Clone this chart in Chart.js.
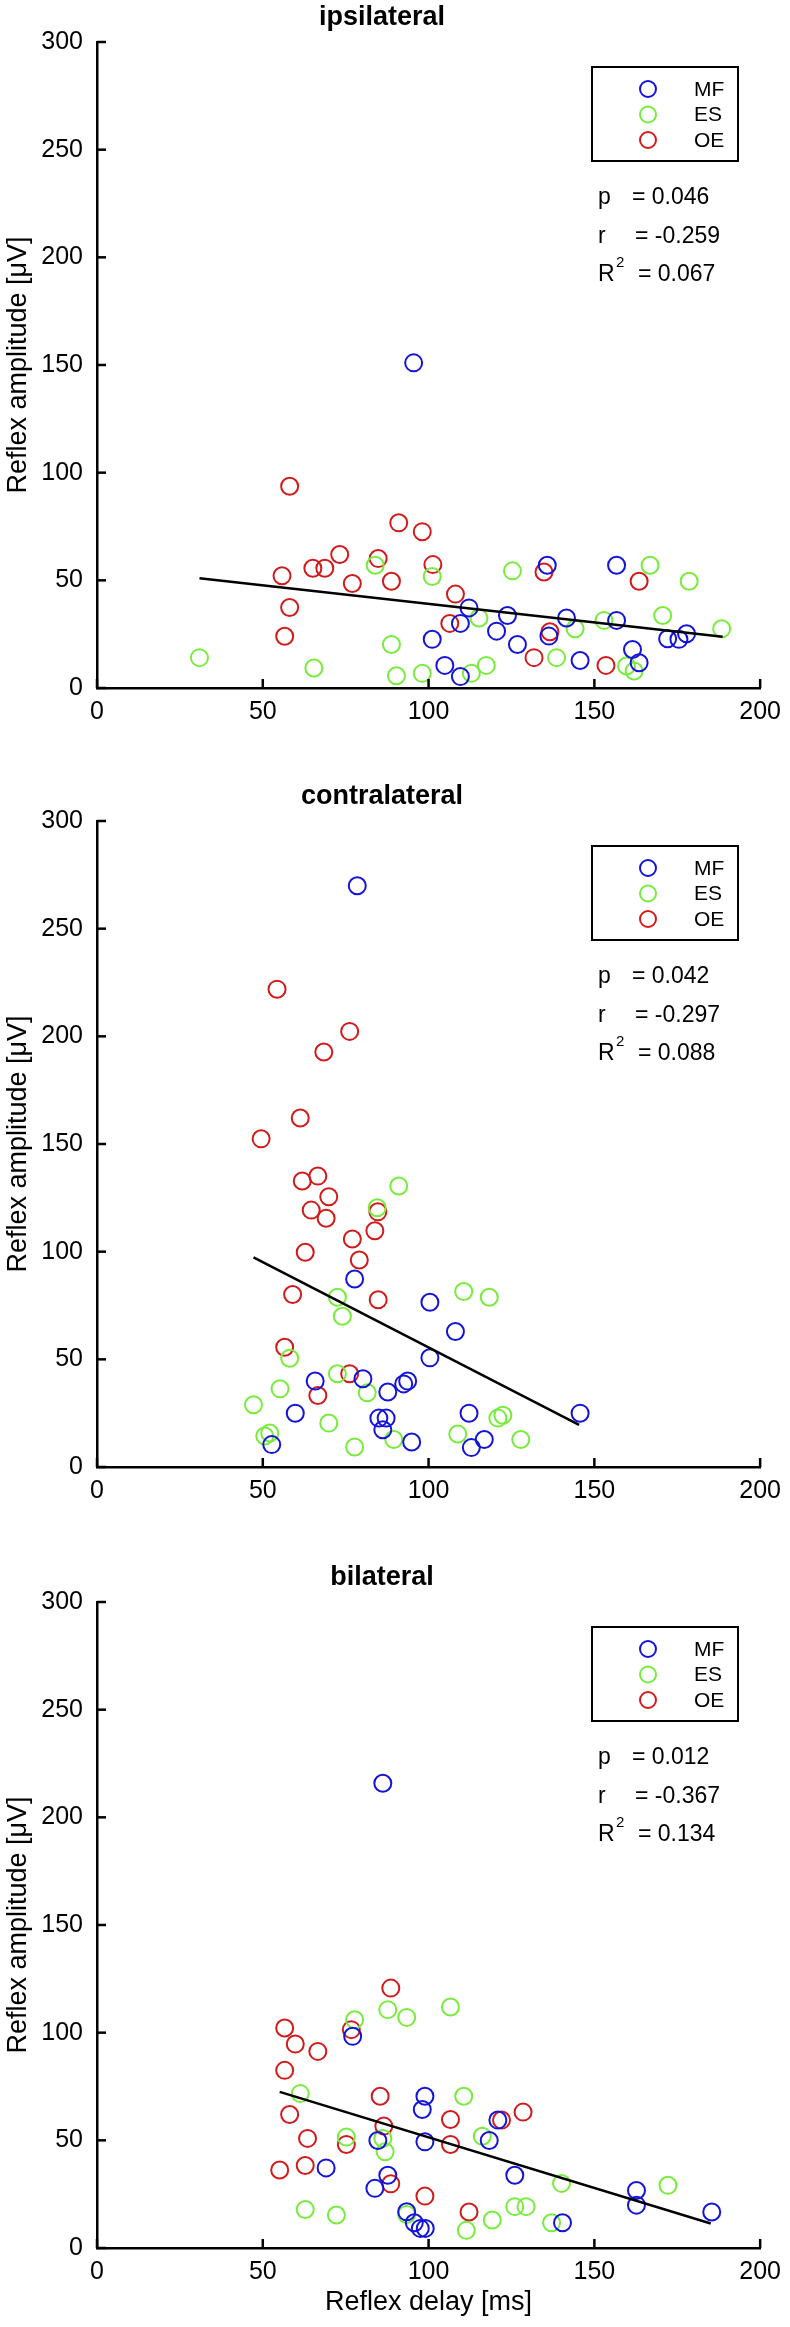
<!DOCTYPE html>
<html>
<head>
<meta charset="utf-8">
<script src="https://cdn.jsdelivr.net/npm/chart.js@4.4.1/dist/chart.umd.min.js"></script>
<style>
  body { margin: 0; background: #fff; }
  .panel { position: absolute; left: 0; width: 790px; }
</style>
</head>
<body>
<div class="panel" style="top:0"><canvas id="ipsi" width="790" height="779"></canvas></div>
<div class="panel" style="top:779px"><canvas id="contra" width="790" height="779"></canvas></div>
<div class="panel" style="top:1560px"><canvas id="bi" width="790" height="767"></canvas></div>
<script>
// [delay ms, amplitude uV]
const ipsiMF = [[95.5,151],[109.6,30.0],[112.2,37.2],[101.1,22.6],[104.9,10.5],[109.6,5.3],[120.5,26.4],[123.8,33.7],[126.8,20.2],[135.8,57.0],
  [136.3,24.1],[141.6,32.5],[145.7,12.8],[156.7,57.0],[156.7,31.4],[161.5,17.9],[163.5,11.7],[172.1,22.9],[175.5,22.6],[177.8,25.2]];
const ipsiES = [[30.9,14.1],[65.4,9.3],[83.9,57.0],[101.1,51.8],[88.8,20.2],[90.3,5.7],[98.1,6.8],[112.9,6.8],[115.2,32.5],[117.4,10.5],
  [125.3,54.4],[138.6,14.1],[144.2,27.5],[152.9,31.4],[159.7,10.2],[162.0,7.9],[166.8,57.0],[170.6,33.7],[178.6,49.6],[188.4,27.5]];
const ipsiOE = [[58.1,93.7],[91.0,76.7],[98.1,72.6],[73.2,62.0],[84.8,60.1],[65.1,55.6],[68.7,55.6],[55.8,52.1],[101.3,57.3],[77.0,48.5],
  [88.8,49.6],[58.1,37.4],[56.6,24.0],[108.1,43.6],[106.4,30.0],[134.8,53.9],[136.6,26.1],[131.8,14.1],[153.5,10.5],[163.5,49.6]];
const ipsiFit = [[30.9,51.0],[188.7,23.8]];
const ipsiStats = ['0.046', '-0.259', '0.067'];

const contraMF = [[78.5,269.9],[77.7,87.3],[100.4,76.5],[108.1,62.9],[100.4,50.7],[65.8,39.9],[80.2,41.0],[87.7,34.8],[92.5,38.6],[93.7,39.9],
  [59.8,25.0],[85.0,22.7],[87.2,22.7],[86.2,17.3],[52.7,10.4],[94.9,11.6],[112.2,25.0],[112.9,9.0],[116.8,12.8],[145.7,25.0]];
const contraES = [[91.0,130.5],[84.5,120.4],[110.6,81.5],[118.3,78.8],[72.5,78.8],[74.0,70.0],[58.1,50.5],[72.5,43.3],[55.2,36.3],[81.5,34.5],
  [47.2,28.9],[69.9,20.4],[50.6,14.4],[52.1,15.8],[77.7,9.3],[89.5,12.8],[108.8,15.3],[120.9,22.7],[122.4,24.0],[127.8,12.8]];
const contraOE = [[54.3,221.9],[76.2,202.3],[68.4,192.7],[61.3,162.1],[49.5,152.4],[66.6,135.1],[61.9,132.8],[69.9,125.5],[64.6,119.3],[84.7,118.5],
  [69.1,115.5],[83.8,109.7],[77.0,105.9],[62.8,99.7],[79.1,96.1],[59.0,80.1],[84.8,77.7],[56.6,55.6],[76.2,43.3],[66.6,33.2]];
const contraFit = [[47.2,97.4],[145.4,19.6]];
const contraStats = ['0.042', '-0.297', '0.088'];

const biMF = [[86.2,215.8],[77.1,98.3],[98.9,70.5],[98.1,64.3],[120.9,59.4],[84.7,49.9],[98.9,49.3],[118.3,49.9],[69.1,37.2],[87.7,33.8],
  [83.8,27.7],[126.0,33.8],[93.4,16.8],[95.7,11.7],[97.5,9.1],[99.0,9.1],[140.4,11.7],[162.7,26.7],[162.7,19.9],[185.4,16.7]];
const biES = [[87.7,110.7],[106.6,111.9],[93.4,107.1],[77.7,106.0],[61.3,71.7],[110.6,70.5],[116.2,51.9],[75.2,51.5],[86.2,50.9],[86.9,44.7],
  [140.1,30.0],[62.8,17.9],[72.2,15.3],[93.4,15.6],[111.4,8.2],[119.2,13.0],[126.0,19.2],[129.4,19.2],[137.1,11.7],[172.2,29.1]];
const biOE = [[88.6,120.7],[56.6,102.2],[76.7,101.4],[59.8,94.7],[66.6,91.3],[56.6,82.5],[85.4,70.5],[58.1,62.0],[128.5,63.1],[106.6,59.7],
  [122.0,59.4],[86.5,56.6],[63.5,50.9],[75.2,48.1],[106.6,48.1],[55.1,36.2],[62.8,38.3],[88.6,29.8],[98.9,24.1],[112.2,16.7]];
const biFit = [[55.1,72.5],[185.1,11.4]];
const biStats = ['0.012', '-0.367', '0.134'];

const muscles = ['MF', 'ES', 'OE'];
const colors = ['#1414d8', '#78ec3c', '#d21a1a'];
const FONT = "'Liberation Sans', Arial, Helvetica, sans-serif";

const pts = arr => arr.map(([x, y]) => ({x, y}));

// inward ticks, legend box and statistics text
const decor = {
  id: 'decor',
  afterDraw(chart, args, opts) {
    const {ctx, chartArea: ca, scales: {x, y}} = chart;
    ctx.save();
    ctx.strokeStyle = '#000';
    ctx.lineWidth = 2.5;
    y.ticks.forEach(t => {
      const py = y.getPixelForValue(t.value);
      ctx.beginPath(); ctx.moveTo(ca.left, py); ctx.lineTo(ca.left + 9, py); ctx.stroke();
    });
    x.ticks.forEach(t => {
      const px = x.getPixelForValue(t.value);
      ctx.beginPath(); ctx.moveTo(px, ca.bottom); ctx.lineTo(px, ca.bottom - 9); ctx.stroke();
    });

    // legend
    const bx = ca.left + 495, by = ca.top + 25;
    ctx.lineWidth = 2;
    ctx.strokeRect(bx, by, 146, 94);
    ctx.font = '21px ' + FONT;
    ctx.textBaseline = 'middle';
    ctx.textAlign = 'left';
    muscles.forEach((m, i) => {
      const ly = by + 22 + i * 25.5;
      ctx.strokeStyle = colors[i];
      ctx.beginPath(); ctx.arc(bx + 56, ly, 8, 0, Math.PI * 2); ctx.stroke();
      ctx.fillStyle = '#000';
      ctx.fillText(m, bx + 102, ly + 1);
    });

    // stats
    const sx = ca.left + 501;
    ctx.fillStyle = '#000';
    ctx.font = '23px ' + FONT;
    ctx.fillText('p', sx, ca.top + 156);
    ctx.fillText('= ' + opts.stats[0], sx + 34, ca.top + 156);
    ctx.fillText('r', sx, ca.top + 195);
    ctx.fillText('= ' + opts.stats[1], sx + 37, ca.top + 195);
    ctx.fillText('R', sx, ca.top + 233);
    ctx.font = '15px ' + FONT;
    ctx.fillText('2', sx + 18, ca.top + 221);
    ctx.font = '23px ' + FONT;
    ctx.fillText('= ' + opts.stats[2], sx + 40, ca.top + 233);
    ctx.restore();
  }
};

function makeChart(id, title, mf, es, oe, fit, stats, xTitle) {
  const canvas = document.getElementById(id);
  const series = [mf, es, oe];
  const datasets = series.map((s, i) => ({
    label: muscles[i],
    data: pts(s),
    borderColor: colors[i],
    backgroundColor: 'rgba(0,0,0,0)',
    pointRadius: 8.5,
    pointBorderWidth: 2,
    pointStyle: 'circle',
    order: 2
  }));
  datasets.push({
    label: 'fit',
    data: pts(fit),
    showLine: true,
    borderColor: '#000',
    borderWidth: 2.5,
    pointRadius: 0,
    order: 1
  });
  return new Chart(canvas, {
    type: 'scatter',
    data: { datasets },
    plugins: [decor],
    options: {
      responsive: false,
      animation: false,
      clip: false,
      layout: { padding: { left: 0, right: 26, top: 0, bottom: 0 } },
      plugins: {
        legend: { display: false },
        tooltip: { enabled: false },
        title: {
          display: true,
          text: title,
          color: '#000',
          font: { family: FONT, size: 27, weight: 'bold' },
          padding: { top: 1, bottom: 8.6 }
        },
        decor: { stats }
      },
      scales: {
        x: {
          type: 'linear',
          min: 0, max: 200,
          afterFit: s => { s.height = canvas.height - 688; },
          grid: { display: false, drawTicks: false },
          border: { display: true, color: '#000', width: 2.5 },
          ticks: { stepSize: 50, padding: 9, color: '#000', font: { family: FONT, size: 25 } },
          title: {
            display: xTitle,
            text: 'Reflex delay [ms]',
            color: '#000',
            font: { family: FONT, size: 27 },
            padding: { top: 0, bottom: 8 }
          }
        },
        y: {
          min: 0, max: 300,
          afterFit: s => { s.width = 97; },
          grid: { display: false, drawTicks: false },
          border: { display: true, color: '#000', width: 2.5 },
          ticks: { stepSize: 50, padding: 14, color: '#000', font: { family: FONT, size: 25 } },
          title: {
            display: true,
            text: 'Reflex amplitude [μV]',
            color: '#000',
            font: { family: FONT, size: 27 },
            padding: { top: 2, bottom: 0 }
          }
        }
      }
    }
  });
}

makeChart('ipsi', 'ipsilateral', ipsiMF, ipsiES, ipsiOE, ipsiFit, ipsiStats, false);
makeChart('contra', 'contralateral', contraMF, contraES, contraOE, contraFit, contraStats, false);
makeChart('bi', 'bilateral', biMF, biES, biOE, biFit, biStats, true);
</script>
</body>
</html>
